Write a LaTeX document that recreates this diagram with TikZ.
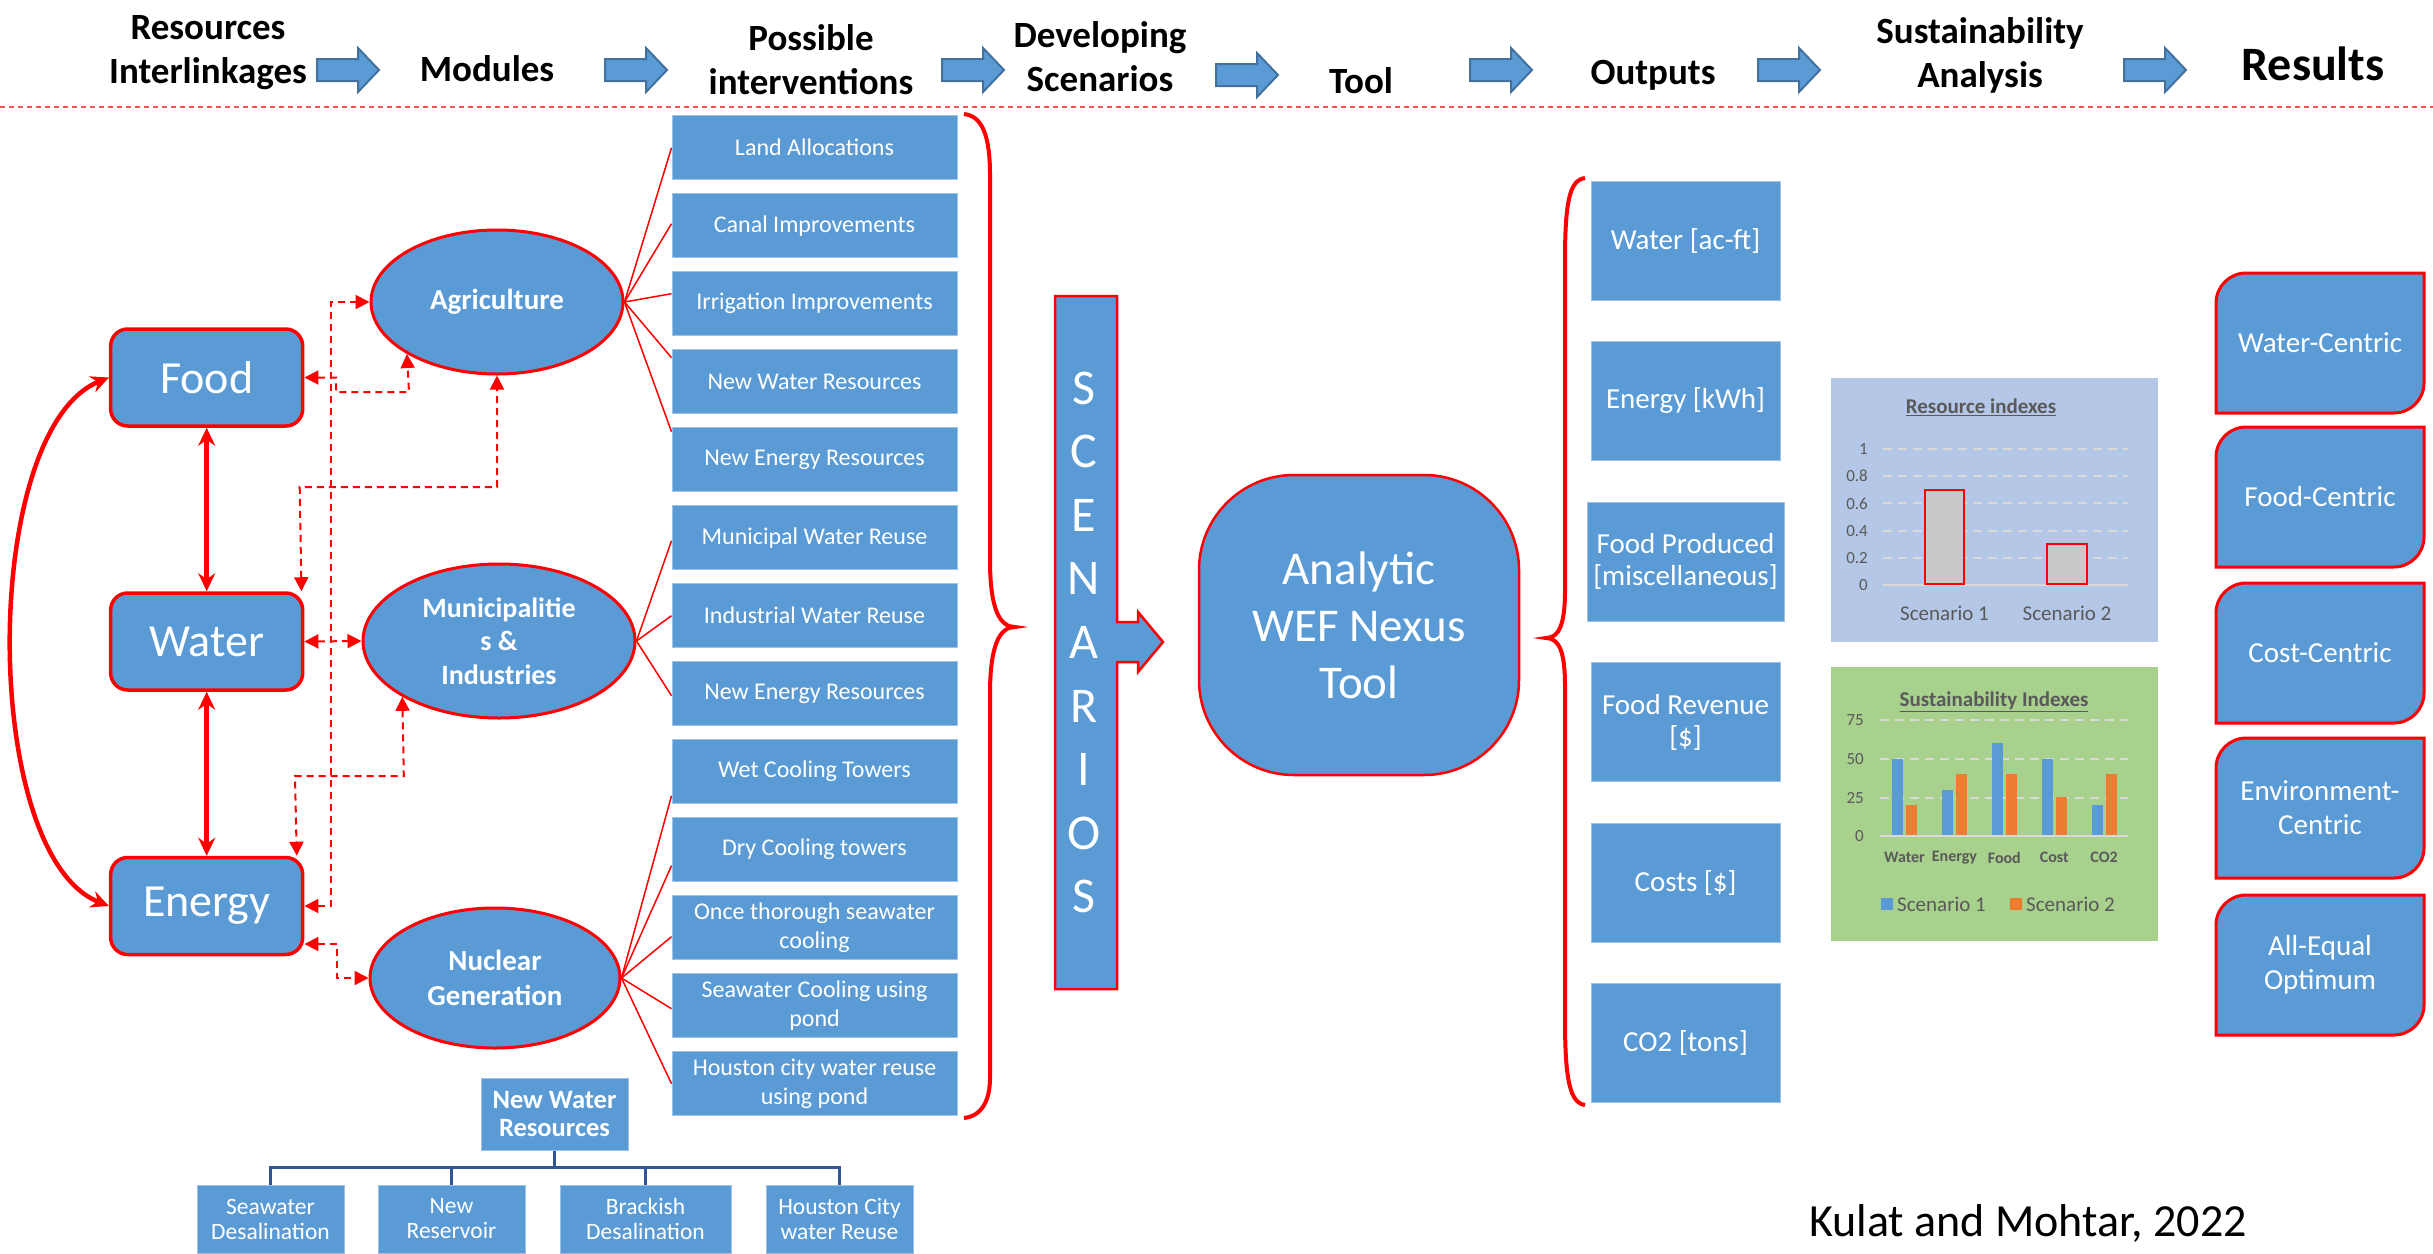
\documentclass[tikz,border=0pt]{standalone}
\usepackage{fontspec}
\setmainfont{Carlito}
\usetikzlibrary{shapes.geometric,arrows.meta}
\definecolor{blueA}{RGB}{91,155,213}
\definecolor{blueD}{RGB}{65,113,156}
\definecolor{blueL}{RGB}{157,195,230}
\definecolor{navy}{RGB}{47,85,151}
\definecolor{chartA}{RGB}{180,199,231}
\definecolor{chartB}{RGB}{169,209,142}
\definecolor{gridc}{RGB}{217,217,217}
\definecolor{txtg}{RGB}{89,89,89}
\definecolor{barg}{RGB}{201,201,201}
\definecolor{orng}{RGB}{237,125,49}
\definecolor{dotred}{RGB}{255,80,80}
\newcommand\fsz[2]{\fontsize{#1}{#2}\selectfont}
\newcommand\ResBox[3]{%
  \draw[rshape] (2216,{#2+70}) -- (2216,{#2-40}) .. controls (2216,{#2-56.5}) and (2229.5,{#2-70}) .. (2246,{#2-70}) -- (2424,{#2-70}) -- (2424,{#2+40}) .. controls (2424,{#2+56.5}) and (2410.5,{#2+70}) .. (2394,{#2+70}) -- cycle;
  \node[rtext] (#1) at (2320,#2) {#3};}
\begin{document}
\begin{tikzpicture}[x=1pt,y=-1pt,
  hdr/.style={font=\bfseries\fsz{37}{44}, align=center, inner sep=0},
  hdrone/.style={font=\bfseries\fsz{37}{44}, inner sep=0, anchor=base},
  hdrarrow/.pic={\draw[fill=blueA,draw=blueD,line width=2] (0,-11) -- (41,-11) -- (41,-22) -- (62,0) -- (41,22) -- (41,11) -- (0,11) -- cycle;},
  nexus/.style={rectangle, rounded corners=17, fill=blueA, draw=red, line width=3.5, minimum width=192, minimum height=97, text=white, font=\fsz{46}{50}, inner sep=0},
  module/.style={ellipse, fill=blueA, draw=red, line width=3, text=white, align=center, inner sep=0},
  ibox/.style={rectangle, fill=blueA, draw=blueL, line width=1, minimum width=285, minimum height=64, text=white, font=\fsz{24}{28.5}, align=center, inner sep=0},
  obox/.style={rectangle, fill=blueA, draw=blueL, line width=1, minimum width=189, minimum height=119, text=white, font=\fsz{29}{32}, align=center, inner sep=0},
  rtext/.style={text=white, font=\fsz{29}{34}, align=center, inner sep=0},
  rshape/.style={fill=blueA, draw=red, line width=3},
  link/.style={red, line width=1.5},
  dlink/.style={red, line width=2, dash pattern=on 7pt off 5pt, {Triangle[length=14pt,width=14pt]}-{Triangle[length=14pt,width=14pt]}},
  slink/.style={red, line width=4.5, {Stealth[length=18pt,width=17pt,inset=6pt]}-{Stealth[length=18pt,width=17pt,inset=6pt]}},
  bracestyle/.style={red, line width=4},
  tree/.style={navy, line width=3},
  tbox/.style={rectangle, fill=blueA, draw=blueL, line width=1, text=white, align=center, inner sep=0},
  axl/.style={text=txtg, font=\fsz{17}{20}, anchor=east, inner sep=0},
  gridln/.style={gridc, line width=2, dash pattern=on 9pt off 6pt},
  ctext/.style={text=txtg, inner sep=0}]
\useasboundingbox (0,0) rectangle (2433,1253);
\fill[white] (0,0) rectangle (2433,1253);

% ---------- header ----------
\node[hdr] (h1) at (208,53) {Resources\\Interlinkages};
\pic at (317,70) {hdrarrow};
\node[hdrone] (h2) at (487,81) {Modules};
\pic at (605,70) {hdrarrow};
\node[hdr] (h3) at (811,60) {Possible\\interventions};
\pic at (942,70) {hdrarrow};
\node[hdr] (h4) at (1100,57) {Developing\\Scenarios};
\pic at (1216,75) {hdrarrow};
\node[hdrone] (h5) at (1361,93) {Tool};
\pic at (1470,70) {hdrarrow};
\node[hdrone] (h6) at (1653,84) {Outputs};
\pic at (1758,70) {hdrarrow};
\node[hdr] (h7) at (1980,55) {Sustainability\\Analysis};
\pic at (2124,70) {hdrarrow};
\node[hdrone, font=\bfseries\fsz{48}{52}] (h8) at (2313,80) {Results};
\coordinate (sepL) at (0,107);
\coordinate (sepR) at (2433,107);
\draw[dotred, line width=2.5, dash pattern=on 5pt off 4pt] (sepL) -- (sepR);

% ---------- resources ----------
\node[nexus] (food) at (206.7,377.5) {Food};
\node[nexus] (water) at (206.7,641.5) {Water};
\node[nexus] (energy) at (206.7,906) {Energy};

% ---------- modules ----------
\node[module, minimum width=252, minimum height=144, font=\bfseries\fsz{29}{33}] (agri) at (497,302) {Agriculture};
\node[module, minimum width=272, minimum height=154, font=\bfseries\fsz{28}{33.5}] (muni) at (499,641) {Municipalitie\\s \&\\Industries};
\node[module, minimum width=250, minimum height=140, font=\bfseries\fsz{29}{35}] (nucl) at (495,978) {Nuclear\\Generation};

% ---------- interventions ----------
\node[ibox] (i1) at (814.5,147.7) {Land Allocations};
\node[ibox] (i2) at (814.5,225.7) {Canal Improvements};
\node[ibox] (i3) at (814.5,303.7) {Irrigation Improvements};
\node[ibox] (i4) at (814.5,381.7) {New Water Resources};
\node[ibox] (i5) at (814.5,459.7) {New Energy Resources};
\node[ibox] (i6) at (814.5,537.7) {Municipal Water Reuse};
\node[ibox] (i7) at (814.5,615.7) {Industrial Water Reuse};
\node[ibox] (i8) at (814.5,693.7) {New Energy Resources};
\node[ibox] (i9) at (814.5,771.7) {Wet Cooling Towers};
\node[ibox] (i10) at (814.5,849.7) {Dry Cooling towers};
\node[ibox] (i11) at (814.5,927.7) {Once thorough seawater\\cooling};
\node[ibox] (i12) at (814.5,1005.7) {Seawater Cooling using\\pond};
\node[ibox] (i13) at (814.5,1083.7) {Houston city water reuse\\using pond};

\draw[link] (agri.east) -- (i1.west);
\draw[link] (agri.east) -- ([yshift=2pt]i2.west);
\draw[link] (agri.east) -- ([yshift=10pt]i3.west);
\draw[link] (agri.east) -- ([yshift=24pt]i4.west);
\draw[link] (agri.east) -- ([yshift=28pt]i5.west);
\draw[link] (muni.east) -- ([yshift=-3pt]i6.west);
\draw[link] (muni.east) -- (i7.west);
\draw[link] (muni.east) -- ([yshift=-2pt]i8.west);
\draw[link] (nucl.east) -- ([yshift=-24pt]i9.west);
\draw[link] (nucl.east) -- ([yshift=-16pt]i10.west);
\draw[link] (nucl.east) -- ([yshift=-9pt]i11.west);
\draw[link] (nucl.east) -- ([yshift=-3pt]i12.west);
\draw[link] (nucl.east) -- (i13.west);

% ---------- resource / module links ----------
\draw[slink] (food.south) -- (water.north);
\draw[slink] (water.south) -- (energy.north);
\draw[slink] (food.west) .. controls (-20,430) and (-20,855) .. (energy.west);

\draw[dlink] (food.east) -- (336,377.5) -- (336,392) -- (409,392) -- (agri.210);
\draw[dlink] (energy.east) -- (331,906) -- (331,302) -- (agri.west);
\draw[dlink] ([xshift=-3pt]water.north east) -- (299.7,487) -- (497,487) -- (agri.south);
\draw[dlink] (water.east) -- (muni.west);
\draw[dlink] (muni.210) -- (403.8,776) -- (295,776) -- ([xshift=-7.7pt]energy.north east);
\draw[dlink] ([yshift=-38pt]energy.east) -- (337,944) -- (337,978) -- (nucl.west);

% ---------- brace after interventions ----------
\draw[bracestyle] (964,114) .. controls (982,116) and (990,135) .. (990,175) -- (990,560) .. controls (990,610) and (1000,627) .. (1015,627) .. controls (1000,627) and (990,644) .. (990,694) -- (990,1078) .. controls (990,1100) and (982,1116) .. (964,1118);

% ---------- scenarios ----------
\draw[fill=blueA, draw=red, line width=2.5] (1055,296) -- (1117,296) -- (1117,622) -- (1138,622) -- (1138,612) -- (1163,642) -- (1138,672) -- (1138,662) -- (1117,662) -- (1117,989) -- (1055,989) -- cycle;
\node[text=white, font=\fsz{50}{63.6}, align=center, inner sep=0] (scen) at (1084,642.5) {S\\C\\E\\N\\A\\R\\I\\O\\S};

% ---------- tool ----------
\node[rectangle, rounded corners=95, fill=blueA, draw=red, line width=2.5, minimum width=320, minimum height=300, text=white, font=\fsz{47}{57}, align=center, inner sep=0] (tool) at (1359,625) {Analytic\\WEF Nexus\\Tool};

% ---------- outputs ----------
\draw[bracestyle] (1585,178) .. controls (1570,180) and (1565,200) .. (1565,260) -- (1565,590) .. controls (1565,622) and (1560,638) .. (1546,638) .. controls (1560,638) and (1565,654) .. (1565,686) -- (1565,1020) .. controls (1565,1080) and (1570,1103) .. (1585,1105);
\node[obox] (o1) at (1685.5,240.5) {Water [ac-ft]};
\node[obox] (o2) at (1685.5,401) {Energy [kWh]};
\node[obox, minimum width=197] (o3) at (1685.5,561.5) {Food Produced\\{[miscellaneous]}};
\node[obox] (o4) at (1685.5,722) {Food Revenue\\{[\$]}};
\node[obox] (o5) at (1685.5,882.5) {Costs [\$]};
\node[obox] (o6) at (1685.5,1043) {CO2 [tons]};

% ---------- chart 1 ----------
\fill[chartA] (1831,378) rectangle (2158,642);
\node[ctext, font=\bfseries\fsz{21}{24}] (t1) at (1981,407) {\underline{Resource indexes}};
\foreach \yy in {449,476.2,503.4,530.6,557.8} \draw[gridln] (1883,\yy) -- (2128,\yy);
\draw[gridc, line width=2] (1883,585) -- (2128,585);
\node[axl] (ra5) at (1868,449) {1};
\node[axl] (ra4) at (1868,476.2) {0.8};
\node[axl] (ra3) at (1868,503.4) {0.6};
\node[axl] (ra2) at (1868,530.6) {0.4};
\node[axl] (ra1) at (1868,557.8) {0.2};
\node[axl] (ra0) at (1868,585) {0};
\draw[fill=barg, draw=red, line width=2] (1925,584) rectangle (1964,490.2);
\draw[fill=barg, draw=red, line width=2] (2047,584) rectangle (2087,544.2);
\node[ctext, font=\fsz{21}{24}] (s1) at (1944.5,613) {Scenario 1};
\node[ctext, font=\fsz{21}{24}] (s2) at (2067,613) {Scenario 2};

% ---------- chart 2 ----------
\fill[chartB] (1831,667) rectangle (2158,941);
\node[ctext, font=\bfseries\fsz{21}{24}] (t2) at (1994,702) {\underline{Sustainability Indexes}};
\foreach \yy in {720,759,798} \draw[gridln] (1880,\yy) -- (2128,\yy);
\node[axl] (sa3) at (1864,720) {75};
\node[axl] (sa2) at (1864,759) {50};
\node[axl] (sa1) at (1864,798) {25};
\node[axl] (sa0) at (1864,836) {0};
\foreach \k/\a/\b in {0/50/20,1/30/40,2/60/40,3/50/25,4/20/40} {
  \pgfmathsetmacro\cc{1904.5+49.9*\k}
  \fill[blueA] ({\cc-12.5},836) rectangle ({\cc-1.5},{836-1.548*\a});
  \fill[orng] ({\cc+1.5},836) rectangle ({\cc+12.5},{836-1.548*\b});
}
\draw[gridc, line width=2] (1880,836) -- (2128,836);
\foreach \k/\t in {0/Water,1/Energy,2/Food,3/Cost,4/CO2}
  \node[ctext, font=\bfseries\fsz{16}{18}] (cat\k) at ({1904.5+49.9*\k},857.5) {\t};
\fill[blueA] (1881,898) rectangle (1893,910);
\node[ctext, font=\fsz{21}{24}, anchor=west] (lg1) at (1897,904) {Scenario 1};
\fill[orng] (2010,898) rectangle (2022,910);
\node[ctext, font=\fsz{21}{24}, anchor=west] (lg2) at (2026,904) {Scenario 2};

% ---------- results ----------
\ResBox{r1}{343}{Water-Centric}
\ResBox{r2}{497}{Food-Centric}
\ResBox{r3}{653}{Cost-Centric}
\ResBox{r4}{808}{Environment-\\Centric}
\ResBox{r5}{965}{All-Equal\\Optimum}

% ---------- new water resources tree ----------
\node[tbox, minimum width=147, minimum height=72, font=\bfseries\fsz{26.5}{28}] (nwr) at (554.5,1114) {New Water\\Resources};
\node[tbox, minimum width=147, minimum height=68, font=\fsz{23.5}{25}] (c1) at (270.5,1219) {Seawater\\Desalination};
\node[tbox, minimum width=147, minimum height=68, font=\fsz{23.5}{25}] (c2) at (451.5,1219) {New\\Reservoir};
\node[tbox, minimum width=171, minimum height=68, font=\fsz{23.5}{25}] (c3) at (645.5,1219) {Brackish\\Desalination};
\node[tbox, minimum width=147, minimum height=68, font=\fsz{23.5}{25}] (c4) at (839.5,1219) {Houston City\\water Reuse};
\draw[tree] (nwr.south) -- ++(0,17) coordinate (tj);
\foreach \c in {c1,c2,c3,c4} \draw[tree] (tj) -| (\c.north);

% ---------- citation ----------
\node[font=\fsz{46}{50}, anchor=base, inner sep=0] (cite) at (2028,1236) {Kulat and Mohtar, 2022};
\end{tikzpicture}
\end{document}
